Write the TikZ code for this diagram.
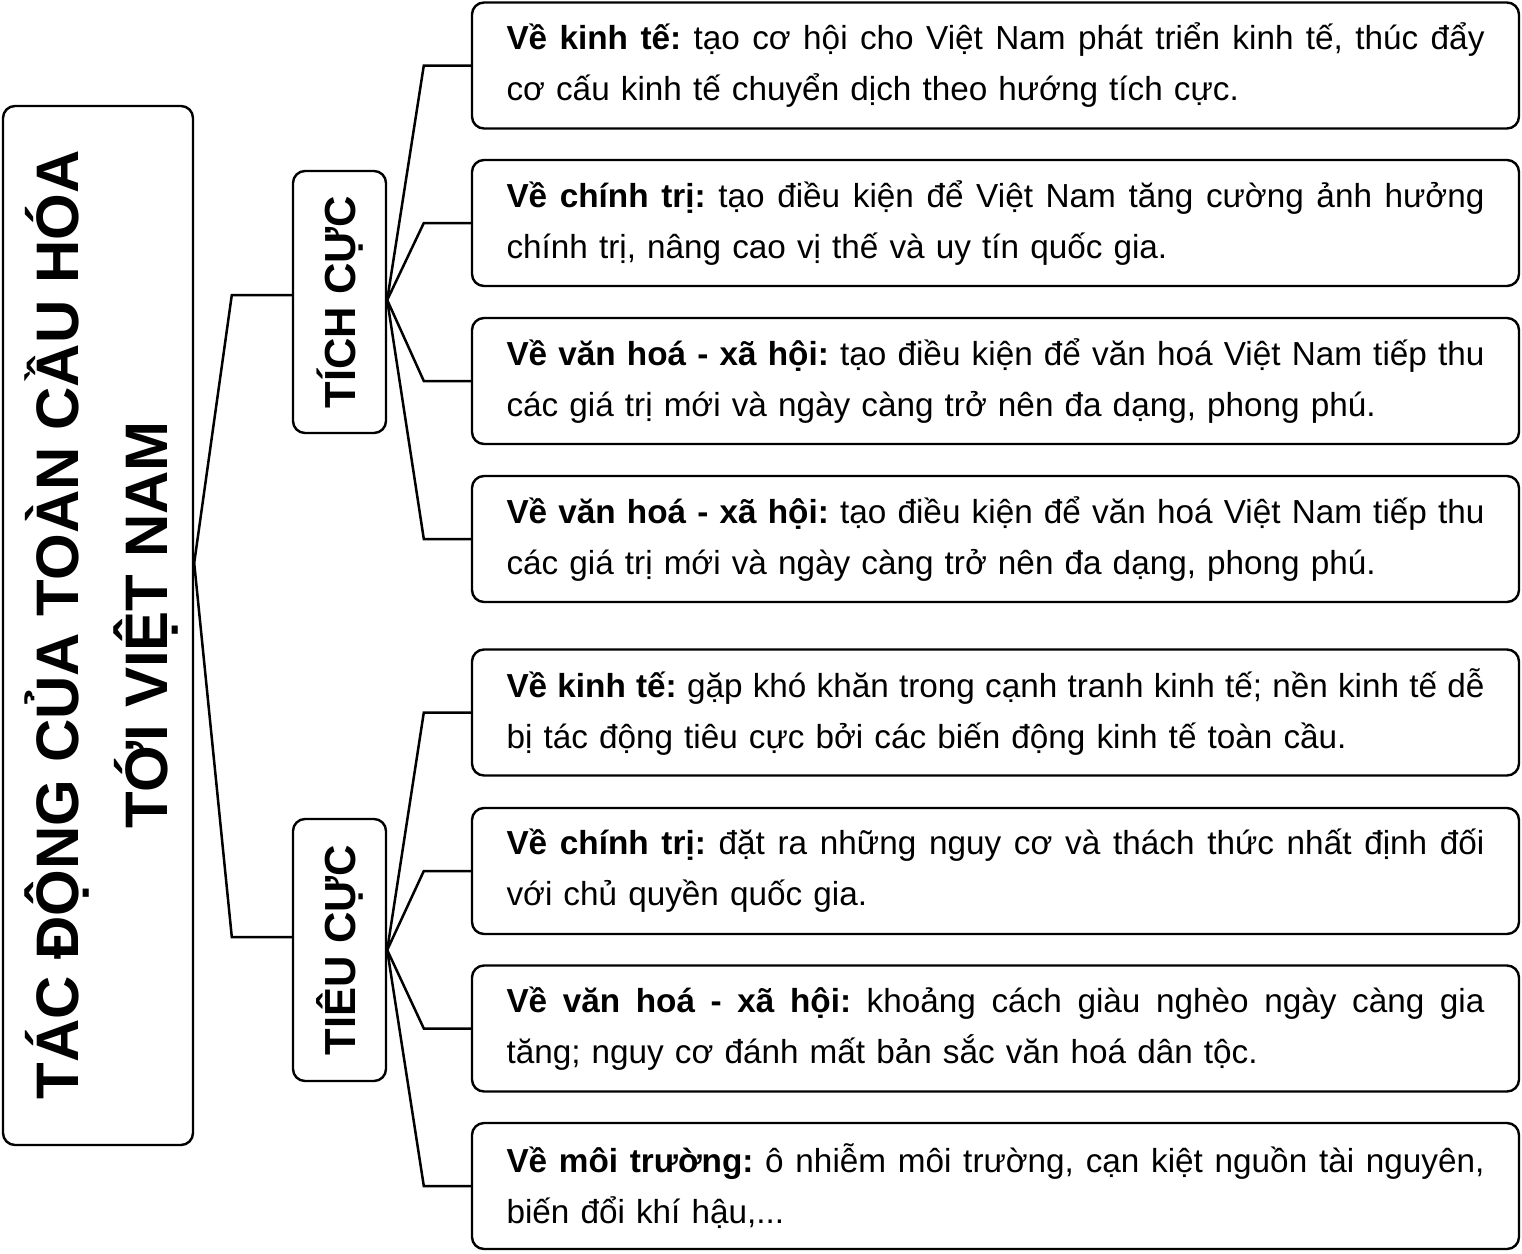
\documentclass[tikz,border=0pt]{standalone}
\usepackage{fontspec}
\setmainfont{Liberation Sans}
\newcommand\fullline[1]{\leavevmode\hbox to 978pt{\frenchspacing\spaceskip=.278em plus 1fil minus .12em\relax #1}}
\tikzset{
  box/.style={draw, line width=2.4pt, rounded corners=12pt},
  textbox/.style={box, text width=978pt, inner xsep=34.5pt, inner ysep=0pt,
    minimum height=126pt, align=left, font=\fontsize{33.3pt}{51pt}\selectfont},
  catbox/.style={box, rotate=90, minimum width=262pt, minimum height=93pt,
    inner sep=0pt, font=\bfseries\fontsize{43.5pt}{50pt}\selectfont,
    text height=31pt, text depth=0pt},
  link/.style={line width=2.5pt, line join=miter}
}
\begin{document}
\begin{tikzpicture}[x=1pt,y=-1pt]
\useasboundingbox (0,0) rectangle (1522,1253);
% main box
\node[box, minimum width=190pt, minimum height=1039pt, inner sep=0pt] (main) at (98,625.5) {};
\node[rotate=90, align=center, font=\bfseries\fontsize{60pt}{89pt}\selectfont] (title) at (101,625) {TÁC ĐỘNG CỦA TOÀN CẦU HÓA\\TỚI VIỆT NAM};
% categories (rotated: north = page left, south = page right)
\node[catbox] (tich) at (339.5,302) {TÍCH CỰC};
\node[catbox] (tieu) at (339.5,950) {TIÊU CỰC};
% right boxes
\node[textbox] (r1) at (995.5,65.5) {\fullline{\textbf{Về kinh tế:} tạo cơ hội cho Việt Nam phát triển kinh tế, thúc đẩy}\\cơ cấu kinh tế chuyển dịch theo hướng tích cực.};
\node[textbox] (r2) at (995.5,223) {\fullline{\textbf{Về chính trị:} tạo điều kiện để Việt Nam tăng cường ảnh hưởng}\\chính trị, nâng cao vị thế và uy tín quốc gia.};
\node[textbox] (r3) at (995.5,381) {\fullline{\textbf{Về văn hoá - xã hội:} tạo điều kiện để văn hoá Việt Nam tiếp thu}\\các giá trị mới và ngày càng trở nên đa dạng, phong phú.};
\node[textbox] (r4) at (995.5,539) {\fullline{\textbf{Về văn hoá - xã hội:} tạo điều kiện để văn hoá Việt Nam tiếp thu}\\các giá trị mới và ngày càng trở nên đa dạng, phong phú.};
\node[textbox] (r5) at (995.5,712.5) {\fullline{\textbf{Về kinh tế:} gặp khó khăn trong cạnh tranh kinh tế; nền kinh tế dễ}\\bị tác động tiêu cực bởi các biến động kinh tế toàn cầu.};
\node[textbox] (r6) at (995.5,871) {\fullline{\textbf{Về chính trị:} đặt ra những nguy cơ và thách thức nhất định đối}\\với chủ quyền quốc gia.};
\node[textbox] (r7) at (995.5,1028.5) {\fullline{\textbf{Về văn hoá - xã hội:} khoảng cách giàu nghèo ngày càng gia}\\tăng; nguy cơ đánh mất bản sắc văn hoá dân tộc.};
\node[textbox] (r8) at (995.5,1186) {\fullline{\textbf{Về môi trường:} ô nhiễm môi trường, cạn kiệt nguồn tài nguyên,}\\biến đổi khí hậu,...};
% connectors
\coordinate (mj) at ([yshift=62.5pt]main.east);
\draw[link] (mj) -- ([xshift=-60pt,yshift=7pt]tich.north) -- ([yshift=7pt]tich.north);
\draw[link] (mj) -- ([xshift=-60pt,yshift=13pt]tieu.north) -- ([yshift=13pt]tieu.north);
\foreach \r in {r1,r2,r3,r4}{
  \draw[link] ([yshift=2pt]tich.south) -- ([xshift=-47pt]\r.west) -- (\r.west);
}
\foreach \r in {r5,r6,r7,r8}{
  \draw[link] (tieu.south) -- ([xshift=-47pt]\r.west) -- (\r.west);
}
\end{tikzpicture}
\end{document}
